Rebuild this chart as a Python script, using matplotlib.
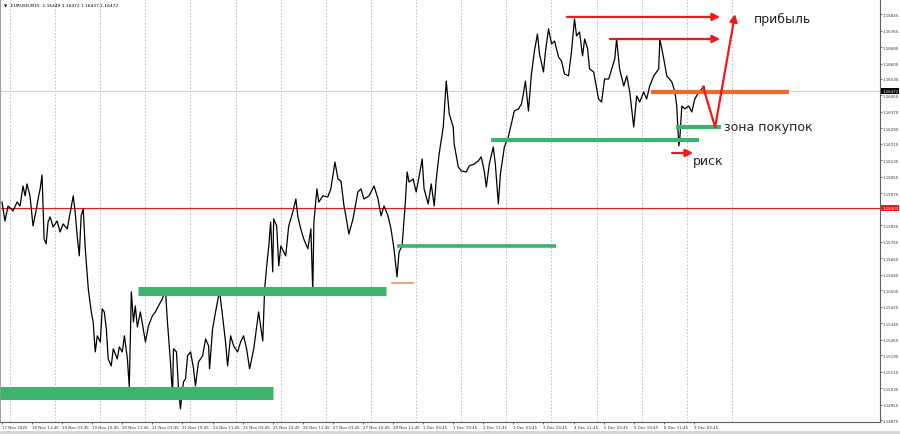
import matplotlib
matplotlib.use("Agg")
import matplotlib.pyplot as plt
import numpy as np

# EURUSD M15, closes (x = trading hours since 17 Nov 19:45)
hours = [0.0, 1.6, 3.2, 5.9, 8.0, 9.6, 11.2, 12.3, 13.3, 14.9, 16.5, 18.1, 19.2, 20.3, 21.3,
         22.4, 23.5, 24.5, 25.6, 27.2, 29.3, 30.9, 32.5, 34.7, 36.8, 37.9, 38.9, 40.0, 41.1,
         42.1, 43.2, 44.3, 45.9, 47.5, 48.5, 49.6, 50.7, 52.3, 53.3, 54.4, 55.5, 56.5, 58.1,
         59.2, 61.3, 62.4, 64.0, 65.1, 66.7, 67.7, 68.8, 69.9, 70.9, 72.0, 73.6, 76.3, 77.9,
         80.0, 81.6, 83.2, 85.3, 86.9, 88.0, 89.6, 90.7, 91.2, 92.8, 93.9, 94.9, 96.5, 97.6,
         98.7, 100.3, 101.9, 102.9, 104.5, 106.7, 108.3, 109.9, 110.4, 112.0, 113.6, 115.7,
         117.3, 118.9, 120.0, 121.6, 123.2, 125.3, 126.9, 128.5, 130.1, 131.7, 133.9, 136.5,
         138.7, 139.7, 140.8, 141.9, 142.9, 144.0, 144.5, 146.1, 147.2, 148.3, 150.9, 152.5,
         154.7, 156.3, 157.3, 158.9, 160.5, 162.7, 164.3, 165.3, 165.9, 167.5, 168.5, 170.7,
         173.3, 174.9, 177.1, 178.7, 180.3, 181.9, 182.9, 184.5, 186.7, 189.3, 190.9, 192.5,
         195.2, 197.9, 200.0, 201.6, 203.2, 205.3, 206.9, 208.5, 210.1, 211.2, 212.8, 214.4,
         215.5, 216.5, 218.7, 220.3, 221.9, 223.5, 224.5, 226.7, 228.3, 229.9, 230.9, 232.5,
         234.7, 236.3, 237.9, 240.0, 240.5, 242.7, 244.3, 246.9, 248.5, 251.2, 253.3, 254.9,
         256.5, 257.6, 259.2, 261.3, 262.4, 264.0, 265.1, 267.2, 269.3, 270.9, 272.5, 274.7,
         276.3, 277.3, 278.4, 280.0, 281.6, 283.2, 284.8, 285.9, 288.0, 289.1, 290.7, 292.3,
         293.9, 296.0, 297.6, 299.2, 301.3, 302.9, 304.5, 305.6, 307.2, 308.8, 309.9, 311.5,
         312.5, 314.7, 316.3, 317.3, 318.9, 320.5, 322.7, 324.3, 325.9, 326.9, 328.5, 330.7,
         332.3, 333.9, 336.0, 337.6, 339.2, 341.3, 342.9, 344.5, 346.7, 349.3, 349.9, 352.0,
         353.6, 356.3, 357.9, 358.9, 360.0, 360.5, 361.6, 363.2, 365.3, 366.9, 368.5, 370.7,
         372.3, 373.3, 373.9]
close = [1.15933, 1.15841, 1.15914, 1.15890, 1.15933, 1.15914, 1.16011, 1.15963, 1.16021,
         1.15963, 1.15817, 1.15890, 1.15948, 1.15997, 1.16064, 1.15754, 1.15730, 1.15836,
         1.15861, 1.15812, 1.15841, 1.15788, 1.15827, 1.15803, 1.15909, 1.15963, 1.15885,
         1.15769, 1.15672, 1.15866, 1.15900, 1.15706, 1.15512, 1.15400, 1.15351, 1.15206,
         1.15284, 1.15254, 1.15415, 1.15400, 1.15318, 1.15172, 1.15138, 1.15221, 1.15172,
         1.15230, 1.15206, 1.15284, 1.15172, 1.15036, 1.15497, 1.15351, 1.15429, 1.15327,
         1.15400, 1.15254, 1.15332, 1.15381, 1.15400, 1.15429, 1.15463, 1.15512, 1.15351,
         1.15157, 1.14993, 1.15221, 1.15206, 1.15027, 1.14930, 1.15060, 1.15075, 1.15187,
         1.15206, 1.15124, 1.15041, 1.15157, 1.15187, 1.15269, 1.15235, 1.15124, 1.15318,
         1.15400, 1.15502, 1.15381, 1.15254, 1.15138, 1.15284, 1.15235, 1.15206, 1.15254,
         1.15284, 1.15221, 1.15124, 1.15221, 1.15400, 1.15259, 1.15512, 1.15623, 1.15720,
         1.15836, 1.15594, 1.15851, 1.15817, 1.15623, 1.15720, 1.15672, 1.15817, 1.15885,
         1.15948, 1.15866, 1.15803, 1.15754, 1.15706, 1.15803, 1.15497, 1.15836, 1.15997,
         1.15933, 1.15963, 1.15958, 1.15997, 1.16127, 1.16045, 1.16035, 1.15914, 1.15866,
         1.15778, 1.15851, 1.15982, 1.15997, 1.15948, 1.15963, 1.16011, 1.15948, 1.15866,
         1.15914, 1.15866, 1.15803, 1.15706, 1.15570, 1.15691, 1.15720, 1.15914, 1.16079,
         1.16030, 1.16045, 1.15982, 1.16060, 1.16142, 1.15997, 1.15924, 1.16021, 1.15914,
         1.16035, 1.16166, 1.16297, 1.16520, 1.16360, 1.16297, 1.16215, 1.16103, 1.16084,
         1.16079, 1.16108, 1.16118, 1.16132, 1.16152, 1.16084, 1.16006, 1.16118, 1.16200,
         1.16118, 1.15924, 1.16069, 1.16200, 1.16249, 1.16312, 1.16375, 1.16385, 1.16409,
         1.16457, 1.16520, 1.16375, 1.16554, 1.16666, 1.16748, 1.16651, 1.16564, 1.16666,
         1.16773, 1.16700, 1.16714, 1.16637, 1.16617, 1.16554, 1.16545, 1.16661, 1.16821,
         1.16739, 1.16758, 1.16642, 1.16724, 1.16676, 1.16579, 1.16564, 1.16482, 1.16433,
         1.16418, 1.16530, 1.16530, 1.16579, 1.16627, 1.16724, 1.16579, 1.16496, 1.16545,
         1.16467, 1.16297, 1.16448, 1.16418, 1.16467, 1.16433, 1.16496, 1.16545, 1.16579,
         1.16724, 1.16627, 1.16545, 1.16515, 1.16467, 1.16399, 1.16205, 1.16239, 1.16399,
         1.16385, 1.16399, 1.16370, 1.16433, 1.16467, 1.16482, 1.16496, 1.16472]

# подписи осей
price_ticks = [1.16845, 1.16765, 1.16685, 1.16605, 1.16530, 1.16450, 1.16370, 1.16290,
               1.16215, 1.16135, 1.16055, 1.15975, 1.15820, 1.15740, 1.15660, 1.15580,
               1.15505, 1.15425, 1.15345, 1.15265, 1.15190, 1.15110, 1.15030, 1.14950,
               1.14875]
time_labels = ["17 Nov 2025", "18 Nov 11:45", "19 Nov 03:45", "19 Nov 19:45", "20 Nov 11:45",
               "21 Nov 03:45", "21 Nov 19:45", "24 Nov 11:45", "25 Nov 03:45", "25 Nov 19:45",
               "26 Nov 11:45", "27 Nov 03:45", "27 Nov 19:45", "28 Nov 11:45", "1 Dec 03:45",
               "1 Dec 19:45", "2 Dec 11:45", "3 Dec 03:45", "3 Dec 19:45", "4 Dec 11:45",
               "5 Dec 03:45", "5 Dec 19:45", "8 Dec 11:45", "9 Dec 03:45"]
label_step = 16      # hours between time labels
day_start = 4.25     # first day separator (18 Nov 00:00)
n_days = 17

bid = 1.16472
red_level = 1.15903
header = "EURUSD,M15  1.16449 1.16472 1.16437 1.16472"

# зоны покупок (начало, конец, цена, толщина)
zones = [(-1.1, 144.1, 1.15007, 9.4),
         (72.3, 204.3, 1.15500, 6.5),
         (210.1, 294.7, 1.15720, 2.6),
         (260.1, 370.7, 1.16234, 3.0),
         (358.5, 382.4, 1.16297, 3.0)]
resist = (345.2, 418.6, 1.16467)
low_mark = (207.4, 218.6, 1.15541)

# стрелки цели / риск
target1 = ((300.5, 1.16831), (381.9, 1.16831))
target2 = ((323.4, 1.16724), (381.9, 1.16724))
path = [(372.9, 1.16491), (379.3, 1.16297), (389.9, 1.16845)]
risk = ((356.4, 1.16171), (367.6, 1.16171))

labels = [("прибыль", 400.0, 1.16806), ("зона покупок", 384.0, 1.16283), ("риск", 367.6, 1.16118)]

GREEN = "#3db36f"
ORANGE = "#ee6a2e"
RED = "#f01818"
FS = 2.9

fig = plt.figure(figsize=(9, 4.35), dpi=100)
ax = fig.add_axes([0.0, 12 / 435, 880 / 900, 423 / 435])
ax.set_xlim(-1.06, 467)
ax.set_ylim(1.14866, 1.16918)

for k in range(n_days):
    ax.axvline(day_start + 24 * k, color="#b8b8b8", lw=0.7, ls=(0, (1.5, 2)), zorder=0)

ax.axhline(bid, color="#d0d0d0", lw=0.8, zorder=1)
ax.axhline(red_level, color=RED, lw=0.8, zorder=1)

ax.plot(hours, close, color="black", lw=0.9, zorder=3)

for x0, x1, y, w in zones:
    ax.plot([x0, x1], [y, y], color=GREEN, lw=w, solid_capstyle="butt", zorder=4)
ax.plot([resist[0], resist[1]], [resist[2]] * 2, color=ORANGE, lw=3, solid_capstyle="butt", zorder=4)
ax.plot([low_mark[0], low_mark[1]], [low_mark[2]] * 2, color="#e8906a", lw=1.2, zorder=4)

arrow = dict(arrowstyle="-|>", color=RED, lw=1.6, mutation_scale=11, shrinkA=0, shrinkB=0)
for start, end in (target1, target2, risk):
    ax.annotate("", xy=end, xytext=start, arrowprops=arrow, zorder=5)
ax.plot([path[0][0], path[1][0]], [path[0][1], path[1][1]], color=RED, lw=1.6, zorder=5)
ax.annotate("", xy=path[2], xytext=path[1], arrowprops=arrow, zorder=5)

for txt, x, y in labels:
    ax.text(x, y, txt, fontsize=9, color="#222222", va="baseline", ha="left", zorder=6)

# оси в стиле терминала
ax.yaxis.tick_right()
ax.set_yticks(price_ticks)
ax.set_yticklabels([f"{p:.5f}" for p in price_ticks])
ax.set_xticks([label_step * i for i in range(len(time_labels))])
ax.set_xticklabels(time_labels, ha="left")
ax.tick_params(axis="both", labelsize=FS, length=1.5, width=0.5, pad=0.6, colors="#333333")
ax.spines["top"].set_visible(False)
ax.spines["left"].set_color("#a0a0a0")
ax.spines["left"].set_linewidth(1.5)
ax.spines["right"].set_color("#606060")
ax.spines["bottom"].set_color("#606060")
ax.spines["right"].set_linewidth(0.8)
ax.spines["bottom"].set_linewidth(0.8)

box = dict(boxstyle="square,pad=0.2", lw=0)
ax.annotate(f"{bid:.5f}", xy=(1.0025, bid), xycoords=("axes fraction", "data"), fontsize=FS,
            color="white", va="center", ha="left", bbox=dict(box, fc="black"), annotation_clip=False, zorder=7)
ax.annotate(f"{red_level:.5f}", xy=(1.0025, red_level), xycoords=("axes fraction", "data"), fontsize=FS,
            color="white", va="center", ha="left", bbox=dict(box, fc=RED), annotation_clip=False, zorder=7)

ax.text(0.004, 0.99, "▼", transform=ax.transAxes, fontsize=3, va="top", ha="left")
ax.text(0.012, 0.99, header, transform=ax.transAxes, fontsize=3.2, va="top", ha="left")

fig.patches.append(plt.Rectangle((0, 0), 1, 3 / 435, transform=fig.transFigure,
                                 fc="#d6d6d6", ec="none"))

fig.savefig("out.png", dpi=100)
